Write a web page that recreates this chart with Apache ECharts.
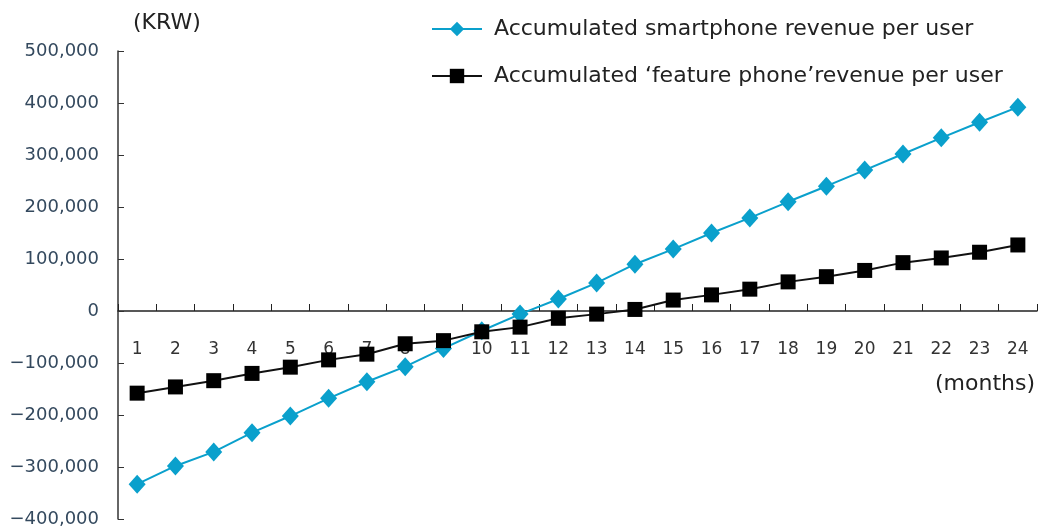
<!DOCTYPE html>
<html>
<head>
<meta charset="utf-8">
<script src="https://cdn.jsdelivr.net/npm/echarts@6/dist/echarts.min.js"></script>
<style>
  html, body { margin: 0; padding: 0; background: #fff; }
  #chart { width: 1038px; height: 532px; }
</style>
</head>
<body>
<div id="chart"></div>
<script>
// months 1..24
var months = ["1","2","3","4","5","6","7","8","9","10","11","12",
  "13","14","15","16","17","18","19","20","21","22","23","24"];

// accumulated revenue per user (KRW)
var smartphone = [-333000, -298000, -271000, -234000, -202000, -168000, -136000, -107000,
  -72000, -38000, -6000, 23000, 54000, 90000, 119000, 150000, 179000, 210000,
  240000, 271000, 302000, 333000, 363000, 392000];
var featurePhone = [-158000, -146000, -134000, -120000, -108000, -94000, -83000, -63000,
  -57000, -40000, -31000, -14000, -6000, 3000, 21000, 31000, 42000, 56000,
  66000, 78000, 93000, 102000, 113000, 127000];

var seriesNames = ["Accumulated smartphone revenue per user",
  "Accumulated \u2018feature phone\u2019revenue per user"];

var font = "DejaVu Sans";
var chart = echarts.init(document.getElementById("chart"));

// grid spans 51..519, zero line sits at 5/9 of the height
var gridTop = 51, gridBottom = 13, chartH = 532;
var zeroOffset = -((chartH - gridBottom) - (gridTop + (chartH - gridBottom - gridTop) * 5 / 9));

chart.setOption({
  animation: false,
  textStyle: { fontFamily: font },
  grid: { left: 118, right: 1, top: gridTop, bottom: gridBottom, containLabel: false, outerBoundsMode: "none" },
  legend: {
    orient: "vertical",
    left: 426,
    top: 13,
    itemGap: 25,
    itemWidth: 50,
    itemHeight: 18,
    textStyle: { fontSize: 22, color: "#222", fontFamily: font, padding: [0, 0, 0, 7] },
    data: seriesNames
  },
  graphic: [
    { type: "text", left: 133, top: 12, style: { text: "(KRW)", fontSize: 22, fill: "#222", fontFamily: font } },
    { type: "text", right: 3, top: 373, style: { text: "(months)", fontSize: 22, fill: "#222", fontFamily: font } }
  ],
  xAxis: {
    type: "category",
    data: months,
    offset: zeroOffset,
    axisLine: { onZero: false, lineStyle: { color: "#222", width: 1.5 } },
    axisTick: { show: true, inside: true, length: 7, lineStyle: { color: "#222" } },
    axisLabel: { margin: 30, fontSize: 17, color: "#333" },
    splitLine: { show: false }
  },
  yAxis: {
    type: "value",
    min: -400000,
    max: 500000,
    interval: 100000,
    axisLine: { show: true, lineStyle: { color: "#333", width: 1.5 } },
    axisTick: { show: true, inside: true, length: 6, lineStyle: { color: "#333" } },
    axisLabel: {
      margin: 19,
      fontSize: 18,
      color: "#34495e",
      formatter: function (v) { return v.toLocaleString("en-US").replace("-", "\u2212"); }
    },
    splitLine: { show: false }
  },
  series: [
    {
      name: seriesNames[0],
      type: "line",
      data: smartphone,
      symbol: "diamond",
      symbolSize: [17, 19],
      itemStyle: { color: "#0aa0cc" },
      lineStyle: { color: "#0aa0cc", width: 2 },
      z: 3
    },
    {
      name: seriesNames[1],
      type: "line",
      data: featurePhone,
      symbol: "rect",
      symbolSize: 15,
      itemStyle: { color: "#000" },
      lineStyle: { color: "#111", width: 2 },
      z: 4
    }
  ]
});
</script>
</body>
</html>
